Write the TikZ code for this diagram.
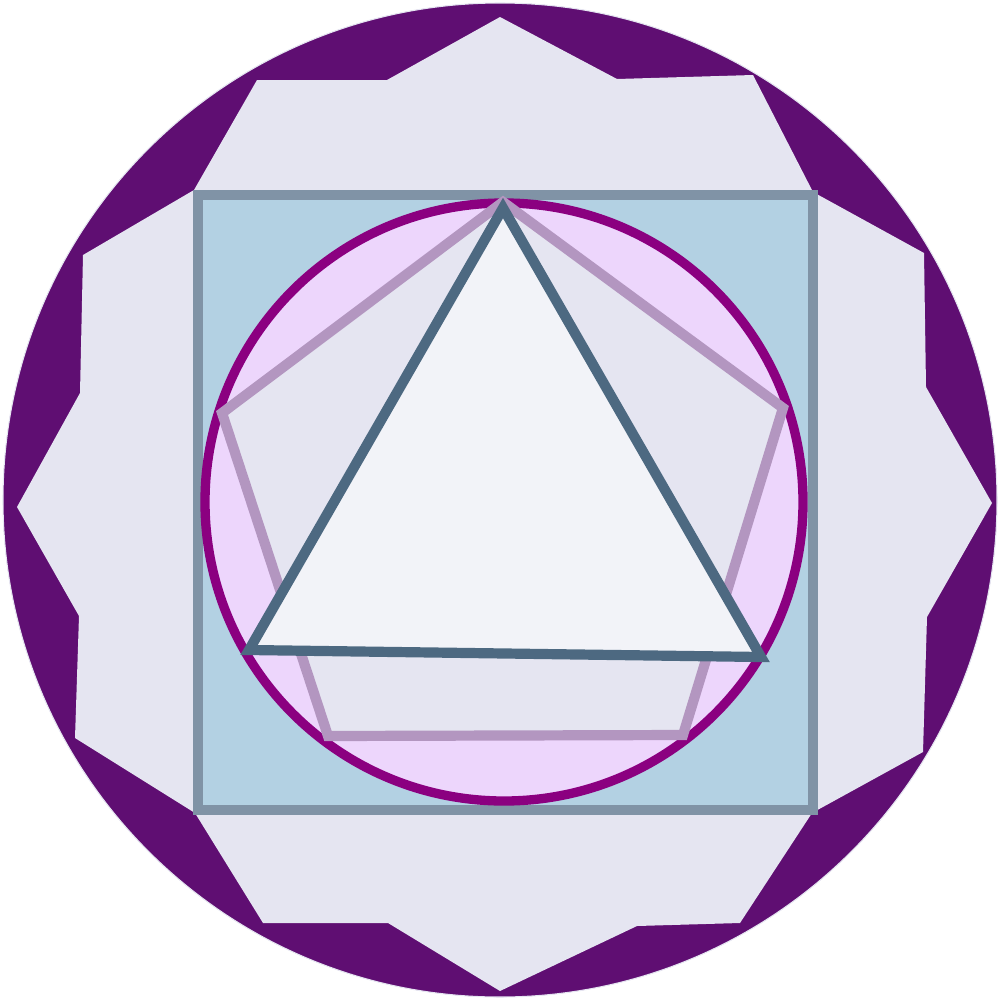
\documentclass[tikz,border=0pt]{standalone}
\usepackage{tikz}

\definecolor{ringpurple}{HTML}{5F0E72}
\definecolor{starfill}{HTML}{E5E5F1}
\definecolor{squarefill}{HTML}{B3D1E3}
\definecolor{squareedge}{HTML}{8093A6}
\definecolor{circlefill}{HTML}{EDD6FC}
\definecolor{circleedge}{HTML}{8B0080}
\definecolor{pentaedge}{HTML}{B396C0}
\definecolor{triedge}{HTML}{4D6981}
\definecolor{trifill}{HTML}{F2F3F8}

\begin{document}
\begin{tikzpicture}[x=0.01cm, y=-0.01cm]
  \tikzset{outline/.style={line width=2.9pt, line join=miter}}
  \useasboundingbox (0,0) rectangle (1000,1000);
  % outer disc and twelve-pointed star
  \filldraw[fill=ringpurple, draw=starfill, line width=0.3pt] (500,500) circle[radius=497];
  \fill[starfill] (500,17) -- (617,79) -- (753,75) -- (813,192) -- (924,253) -- (926,387)
    -- (992,503) -- (927,617) -- (923,752) -- (812,813) -- (740,923) -- (637,926)
    -- (500,991) -- (388,923) -- (263,923) -- (195,813) -- (75,738) -- (79,616)
    -- (17,507) -- (80,393) -- (83,255) -- (194,190) -- (257,80) -- (387,80) -- cycle;
  % square and inscribed circle
  \draw[outline, draw=squareedge, fill=squarefill] (198,195) rectangle (813,810);
  \draw[line width=2.65pt, draw=circleedge, fill=circlefill] (504,502) circle[radius=299];
  % pentagon and triangle
  \draw[outline, draw=pentaedge, fill=starfill] (503,202) -- (783,408) -- (683,735)
    -- (328,736) -- (222,413) -- cycle;
  \draw[outline, draw=triedge, fill=trifill] (503,208) -- (761,657) -- (249,650) -- cycle;
\end{tikzpicture}
\end{document}
